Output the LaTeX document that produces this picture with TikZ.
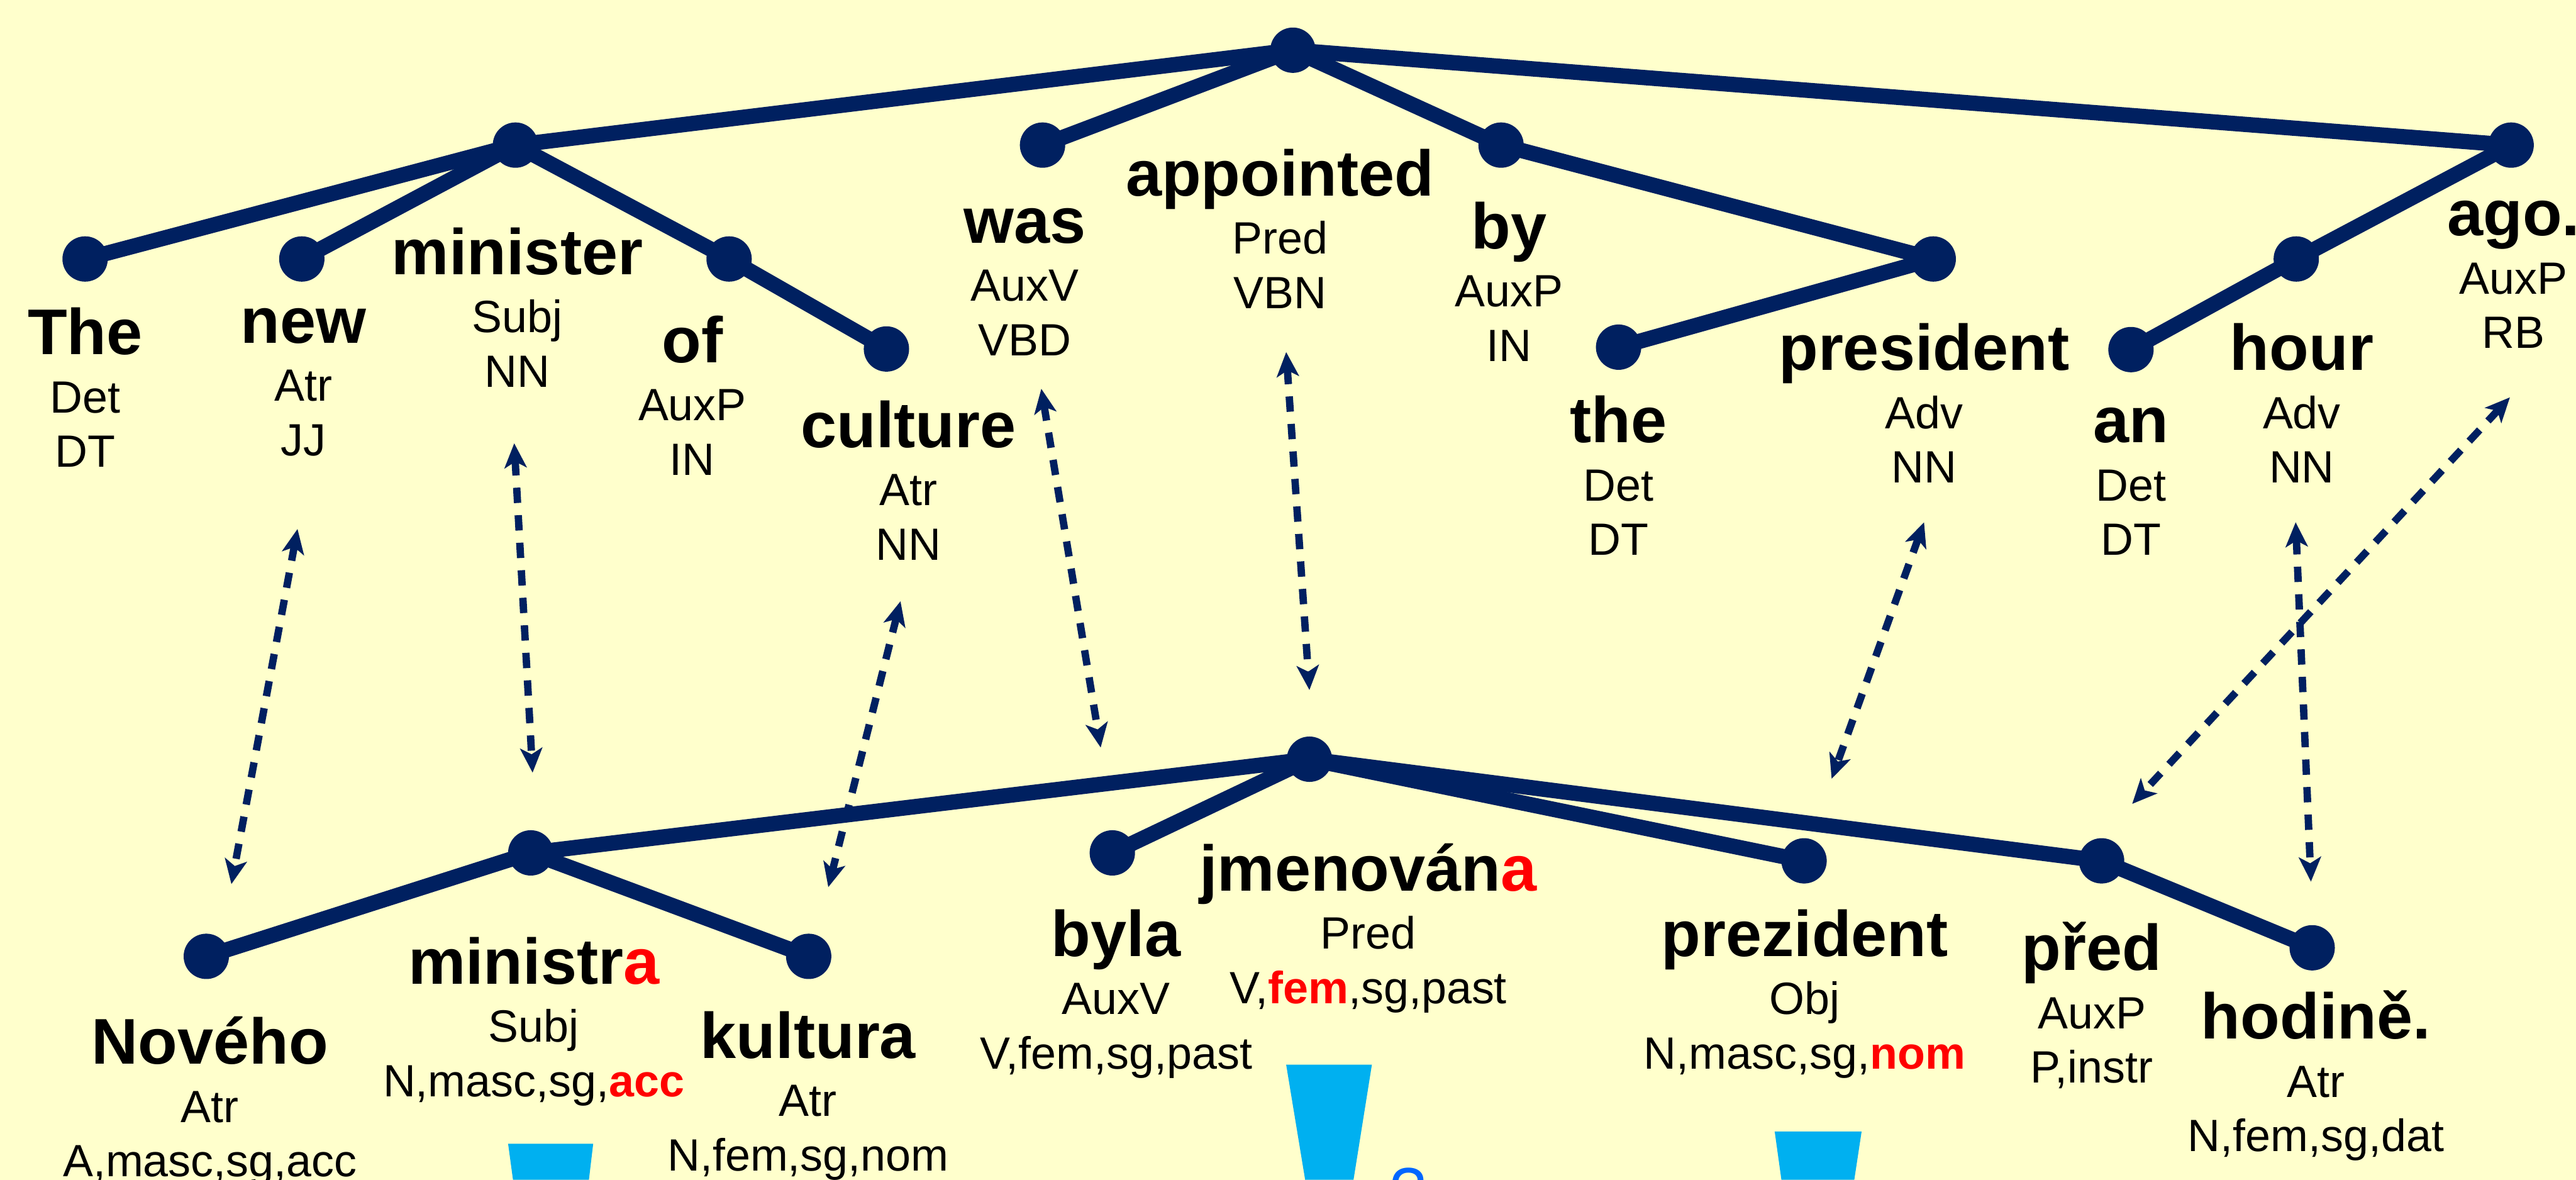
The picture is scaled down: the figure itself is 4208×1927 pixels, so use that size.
\documentclass[tikz,border=0pt]{standalone}
\usepackage{fontspec}
\setmainfont{Liberation Sans}
\usetikzlibrary{arrows.meta}

\definecolor{navy}{RGB}{0,32,96}
\definecolor{paper}{RGB}{255,255,204}
\definecolor{wedge}{RGB}{0,176,240}
\definecolor{qblue}{RGB}{0,102,255}

\newcommand\tok[3]{%
  \begin{tabular}[t]{@{}c@{}}
    {\fontsize{30}{36}\selectfont\bfseries #1}\\[1.7pt]
    #2\\
    #3
  \end{tabular}}
\newcommand\hl[1]{\textbf{\textcolor{red}{#1}}}

\begin{document}
\begin{tikzpicture}[
  x=0.01cm, y=-0.01cm,
  every node/.style = {font=\fontsize{21}{25.3}\selectfont},
  dot/.style = {circle, fill=navy, minimum size=0.74cm, inner sep=0pt},
  word/.style = {anchor=base, inner sep=0pt},
  branch/.style = {navy, line width=0.25cm},
  link/.style = {
    navy,
    line width=0.12cm,
    dash pattern=on 0.25cm off 0.2cm,
    >={Stealth[length=0.4cm, width=0.36cm, inset=0.1cm]},
    <->
  },
  wedgebox/.style = {fill=wedge}
]

\useasboundingbox (0,0) rectangle (4208,1927);
\fill[paper] (0,0) rectangle (4208,1927);

% English tree
\node[dot] (appointed) at (2112,82) {};
\node[dot] (minister) at (842,237) {};
\node[dot] (the1) at (139,423) {};
\node[dot] (new) at (493,423) {};
\node[dot] (of) at (1191,423) {};
\node[dot] (culture) at (1448,570) {};
\node[dot] (was) at (1703,237) {};
\node[dot] (by) at (2452,237) {};
\node[dot] (president) at (3158,423) {};
\node[dot] (the2) at (2644,567) {};
\node[dot] (ago) at (4102,237) {};
\node[dot] (hour) at (3751,423) {};
\node[dot] (an) at (3481,571) {};

\draw[branch] (appointed.center) -- (minister.center);
\draw[branch] (appointed.center) -- (was.center);
\draw[branch] (appointed.center) -- (by.center);
\draw[branch] (appointed.center) -- (ago.center);
\draw[branch] (minister.center) -- (the1.center);
\draw[branch] (minister.center) -- (new.center);
\draw[branch] (minister.center) -- (of.center);
\draw[branch] (of.center) -- (culture.center);
\draw[branch] (by.center) -- (president.center);
\draw[branch] (president.center) -- (the2.center);
\draw[branch] (ago.center) -- (hour.center);
\draw[branch] (hour.center) -- (an.center);

\node[word] (the1-w) at (139,579) {\tok{The}{Det}{DT}};
\node[word] (new-w) at (496,560) {\tok{new}{Atr}{JJ}};
\node[word] (minister-w) at (845,448) {\tok{minister}{Subj}{NN}};
\node[word] (of-w) at (1131,592) {\tok{of}{AuxP}{IN}};
\node[word] (culture-w) at (1484,731) {\tok{culture}{Atr}{NN}};
\node[word] (was-w) at (1674,397) {\tok{was}{AuxV}{VBD}};
\node[word] (appointed-w) at (2091,320) {\tok{appointed}{Pred}{VBN}};
\node[word] (by-w) at (2465,406) {\tok{by}{AuxP}{IN}};
\node[word] (the2-w) at (2644,723) {\tok{the}{Det}{DT}};
\node[word] (president-w) at (3143,605) {\tok{president}{Adv}{NN}};
\node[word] (an-w) at (3481,723) {\tok{an}{Det}{DT}};
\node[word] (hour-w) at (3760,605) {\tok{hour}{Adv}{NN}};
\node[word] (ago-w) at (4106,385) {\tok{ago.}{AuxP}{RB}};

% Czech tree
\node[dot] (jmenovana) at (2139,1240) {};
\node[dot] (ministra) at (867,1393) {};
\node[dot] (noveho) at (337,1562) {};
\node[dot] (kultura) at (1321,1562) {};
\node[dot] (byla) at (1817,1393) {};
\node[dot] (prezident) at (2947,1406) {};
\node[dot] (pred) at (3433,1406) {};
\node[dot] (hodine) at (3777,1548) {};

\draw[branch] (jmenovana.center) -- (ministra.center);
\draw[branch] (jmenovana.center) -- (byla.center);
\draw[branch] (jmenovana.center) -- (prezident.center);
\draw[branch] (jmenovana.center) -- (pred.center);
\draw[branch] (ministra.center) -- (noveho.center);
\draw[branch] (ministra.center) -- (kultura.center);
\draw[branch] (pred.center) -- (hodine.center);

\node[word] (noveho-w) at (343,1738) {\tok{Nového}{Atr}{A,masc,sg,acc}};
\node[word] (ministra-w) at (872,1607) {\tok{ministr\textcolor{red}{a}}{Subj}{N,masc,sg,\hl{acc}}};
\node[word] (kultura-w) at (1320,1728) {\tok{kultura}{Atr}{N,fem,sg,nom}};
\node[word] (byla-w) at (1823,1562) {\tok{byla}{AuxV}{V,fem,sg,past}};
\node[word] (jmenovana-w) at (2235,1455) {\tok{jmenován\textcolor{red}{a}}{Pred}{V,\hl{fem},sg,past}};
\node[word] (prezident-w) at (2948,1562) {\tok{prezident}{Obj}{N,masc,sg,\hl{nom}}};
\node[word] (pred-w) at (3417,1585) {\tok{před}{AuxP}{P,instr}};
\node[word] (hodine-w) at (3783,1697) {\tok{hodině.}{Atr}{N,fem,sg,dat}};

% alignment links
\coordinate (new-a) at (486,864);
\coordinate (noveho-a) at (378,1444);
\coordinate (minister-a) at (840,724);
\coordinate (ministra-a) at (870,1262);
\coordinate (culture-a) at (1471,982);
\coordinate (kultura-a) at (1353,1449);
\coordinate (was-a) at (1701,635);
\coordinate (byla-a) at (1798,1221);
\coordinate (appointed-a) at (2101,575);
\coordinate (jmenovana-a) at (2139,1127);
\coordinate (president-a) at (3143,853);
\coordinate (prezident-a) at (2992,1272);
\coordinate (ago-a) at (4100,649);
\coordinate (pred-a) at (3483,1313);
\coordinate (hour-a) at (3750,853);
\coordinate (hodine-a) at (3775,1440);

\draw[link] (new-a) -- (noveho-a);
\draw[link] (minister-a) -- (ministra-a);
\draw[link] (culture-a) -- (kultura-a);
\draw[link] (was-a) -- (byla-a);
\draw[link] (appointed-a) -- (jmenovana-a);
\draw[link] (president-a) -- (prezident-a);
\draw[link] (ago-a) -- (pred-a);
\draw[link] (hour-a) -- (hodine-a);

\fill[wedgebox] (830,1868) -- (969,1868) -- (962,1927) -- (838,1927) -- cycle;
\fill[wedgebox] (2101,1739) -- (2241,1739) -- (2211,1927) -- (2132,1927) -- cycle;
\fill[wedgebox] (2899,1848) -- (3041,1848) -- (3029,1927) -- (2910,1927) -- cycle;
\node[anchor=base, inner sep=0pt, text=qblue, font=\fontsize{30}{36}\selectfont] (query) at (2300,1981) {?};

\end{tikzpicture}
\end{document}
